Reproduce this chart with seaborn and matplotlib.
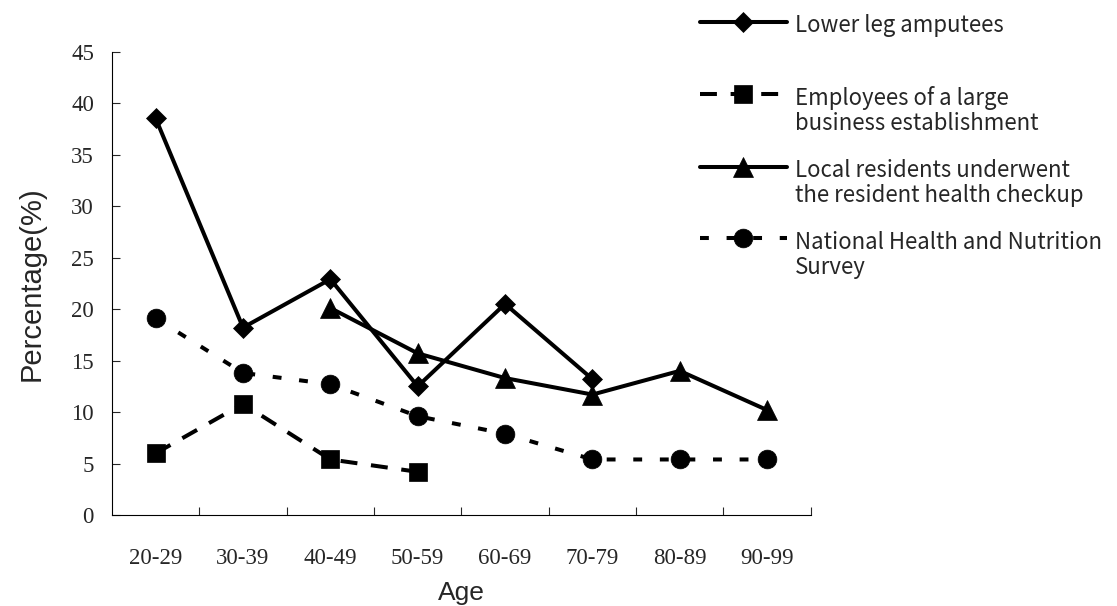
import matplotlib

matplotlib.use("Agg")
import matplotlib.pyplot as plt
import numpy as np
import seaborn as sns
from matplotlib.ticker import FixedLocator

# Data
age_groups = ["20-29", "30-39", "40-49", "50-59", "60-69", "70-79", "80-89", "90-99"]
lower_leg = [38.5, 18.2, 22.9, 12.5, 20.5, 13.2, np.nan, np.nan]
employees = [6.0, 10.8, 5.4, 4.2, np.nan, np.nan, np.nan, np.nan]
local_residents = [np.nan, np.nan, 20.1, 15.7, 13.3, 11.7, 14.0, 10.2]
national_survey = [19.1, 13.8, 12.7, 9.6, 7.9, 5.4, 5.4, 5.4]

series_labels = [
    "Lower leg amputees",
    "Employees of a large\nbusiness establishment",
    "Local residents underwent\nthe resident health checkup",
    "National Health and Nutrition\nSurvey",
]
y_ticks = [0, 5, 10, 15, 20, 25, 30, 35, 40, 45]


def make_plot(out_path):
    sns.set_style("ticks")
    plt.rcParams["font.family"] = ["Liberation Sans", "DejaVu Sans"]
    fig = plt.figure(figsize=(11.17, 6.06), dpi=100)
    ax = fig.add_axes([0.1003, 0.150, 0.6255, 0.765])

    lw = 2.9
    common = dict(ax=ax, color="black", linewidth=lw, markeredgecolor="black",
                  markeredgewidth=0.5)
    sns.lineplot(x=age_groups, y=lower_leg, marker="D", markersize=10.5,
                 linestyle="-", label=series_labels[0] + "\n", **common)
    sns.lineplot(x=age_groups, y=employees, marker="s", markersize=13.5,
                 linestyle=(0, (4.2, 3.4)), label=series_labels[1], **common)
    sns.lineplot(x=age_groups, y=local_residents, marker="^", markersize=14,
                 linestyle="-", label=series_labels[2], **common)
    sns.lineplot(x=age_groups, y=national_survey, marker="o", markersize=13.5,
                 linestyle=(0, (2.2, 4.4)), label=series_labels[3], **common)

    # Axes styling (Excel-like: ticks between categories, pointing inward)
    ax.set_xlim(-0.5, len(age_groups) - 0.5)
    ax.set_ylim(0, 45)
    ax.set_yticks(y_ticks)
    ax.xaxis.set_minor_locator(FixedLocator(np.arange(0.5, len(age_groups), 1.0)))
    ax.tick_params(axis="x", which="major", length=0, pad=24)
    ax.tick_params(axis="x", which="minor", length=6, width=0.8, direction="in")
    ax.tick_params(axis="y", which="major", length=6, width=0.8, direction="in", pad=13)
    for lab in ax.get_xticklabels() + ax.get_yticklabels():
        lab.set_fontfamily("Liberation Serif")
        lab.set_fontsize(16.5)
    sns.despine(ax=ax)
    for side in ["left", "bottom"]:
        ax.spines[side].set_linewidth(0.8)
        ax.spines[side].set_color("black")

    ax.set_xlabel("Age", fontsize=19, labelpad=8)
    ax.set_ylabel("Percentage(%)", fontsize=21, labelpad=18)

    leg = ax.legend(
        loc="upper left",
        bbox_to_anchor=(700 / 1117, 1 - 14 / 606),
        bbox_transform=fig.transFigure,
        frameon=False,
        prop={"family": ["Noto Sans CJK JP", "DejaVu Sans"], "size": 16},
        handlelength=3.9,
        handletextpad=0.36,
        labelspacing=1.06,
        borderpad=0,
        borderaxespad=0,
    )
    for t in leg.get_texts():
        t.set_linespacing(1.13)
    # align each handle with the first line of its label
    for col in leg._legend_handle_box.get_children():
        for row in col.get_children():
            row.align = "top"

    fig.savefig(out_path, dpi=100)


if __name__ == "__main__":
    make_plot("out.png")
